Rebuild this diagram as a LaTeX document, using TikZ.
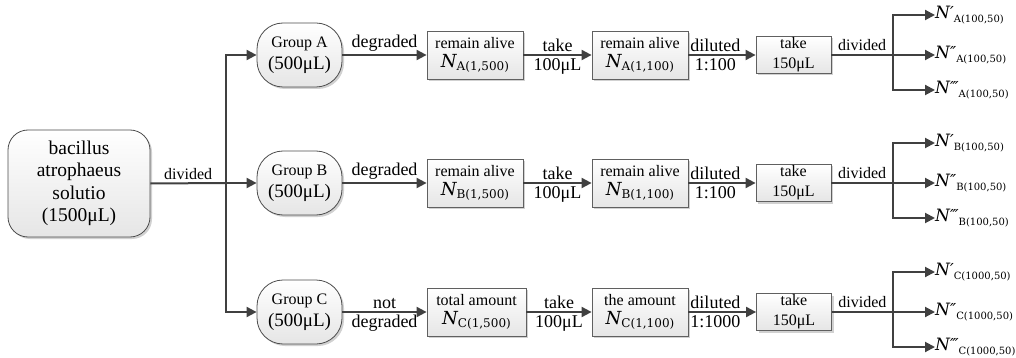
\documentclass[tikz,border=0pt]{standalone}
\usepackage{fontspec}
\setmainfont{Liberation Serif}
\newfontfamily\dvs{DejaVu Serif}
\newfontfamily\dvsans{DejaVu Sans}
\usetikzlibrary{arrows.meta,shadows}
\definecolor{linec}{HTML}{404040}
\definecolor{bordc}{HTML}{606060}
\newcommand\fsz[2]{\fontsize{#1}{#2}\selectfont}
\newcommand\Nb[1]{{\dvs\itshape\fsz{18}{18}N}\raisebox{-3.5pt}{\dvs\fsz{12}{12}#1}}
\newcommand\Nr[2]{{\dvs\itshape\fsz{17}{17}N}{\dvsans\itshape\fsz{16.5}{16.5}#1}\raisebox{-4pt}{\dvs\fsz{10}{10}#2}}
\begin{document}
\begin{tikzpicture}[x=1pt,y=-1pt,
  flow/.style={draw=linec,line width=2pt},
  arr/.style={flow,-{Triangle[length=10pt,width=10pt]}},
  shd/.style={drop shadow={shadow xshift=2pt,shadow yshift=-2pt,fill=black!18,opacity=1}},
  rbox/.style={rectangle,draw=bordc,line width=0.8pt,top color=white,bottom color=black!10,shd,
    inner sep=0pt,align=center,minimum width=96pt,minimum height=48pt,font=\fsz{16}{19}},
  sbox/.style={rbox,minimum width=75pt,minimum height=37pt,font=\fsz{16}{20}},
  grp/.style={rectangle,rounded corners=26pt,draw=black!70,line width=0.8pt,top color=white,
    bottom color=black!10,shd,minimum width=85pt,minimum height=64pt,inner sep=0pt,align=center,
    font=\fsz{16}{22}},
  mainbox/.style={rectangle,rounded corners=20pt,draw=black!70,line width=0.8pt,top color=white,
    bottom color=black!10,shd,minimum width=142pt,minimum height=107pt,inner sep=0pt,align=center,
    font=\fsz{19.5}{22.5}},
  lab/.style={font=\fsz{18}{18},inner sep=2.5pt},
  slab/.style={font=\fsz{16}{16},inner sep=3pt},
  rlab/.style={anchor=west,inner sep=0pt}
]
\useasboundingbox (0,0) rectangle (1016,358);

\node[mainbox] (src) at (79,183.5) {bacillus\\atrophaeus\\solutio\\(1500μL)};
\coordinate (t) at (226,183);

\node[grp] (gA) at (299.5,55) {Group A\\{\fsz{19}{22}(500μL)}};
\node[grp] (gB) at (299.5,183) {Group B\\{\fsz{19}{22}(500μL)}};
\node[grp] (gC) at (299.5,312) {Group C\\{\fsz{19}{22}(500μL)}};

\draw[flow] (src.east) -- node[slab,above]{divided} (t);
\draw[arr] (t) -- (gB.west);
\draw[arr] (t) |- (gA.west);
\draw[arr] (t) |- (gC.west);

% rows
\node[rbox] (a1) at (475,55) {remain alive\\\Nb{A(1,500)}};
\node[rbox] (a2) at (640,55) {remain alive\\\Nb{A(1,100)}};
\node[sbox] (a3) at (793.5,55) {take\\150μL};
\node[rbox] (b1) at (475,183) {remain alive\\\Nb{B(1,500)}};
\node[rbox] (b2) at (640,183) {remain alive\\\Nb{B(1,100)}};
\node[sbox] (b3) at (793.5,183) {take\\150μL};
\node[rbox,minimum width=99pt] (c1) at (476.5,312) {total amount\\\Nb{C(1,500)}};
\node[rbox] (c2) at (640,312) {the amount\\\Nb{C(1,100)}};
\node[sbox] (c3) at (794,312) {take\\150μL};

\draw[arr] (gA.east) -- node[lab,above]{degraded} (a1.west);
\draw[arr] (gB.east) -- node[lab,above]{degraded} (b1.west);
\draw[arr] (gC.east) -- node[lab,above]{not} node[lab,below]{degraded} (c1.west);
\foreach \r in {a,b,c}{
  \draw[arr] (\r1.east) -- node[lab,above]{take} node[lab,below]{100μL} (\r2.west);
}
\draw[arr] (a2.east) -- node[lab,above,pos=0.4]{diluted} node[lab,below,pos=0.4]{1:100} (a3.west);
\draw[arr] (b2.east) -- node[lab,above,pos=0.4]{diluted} node[lab,below,pos=0.4]{1:100} (b3.west);
\draw[arr] (c2.east) -- node[lab,above,pos=0.4]{diluted} node[lab,below,pos=0.4]{1:1000} (c3.west);

% outputs
\coordinate (jA) at (893,55);
\coordinate (jB) at (893,183);
\coordinate (jC) at (893,312);
\node[rlab] (oA1) at (935,15) {\Nr{′}{A(100,50)}};
\node[rlab] (oA2) at (935,55) {\Nr{″}{A(100,50)}};
\node[rlab] (oA3) at (935,90) {\Nr{‴}{A(100,50)}};
\node[rlab] (oB1) at (935,143) {\Nr{′}{B(100,50)}};
\node[rlab] (oB2) at (935,183) {\Nr{″}{B(100,50)}};
\node[rlab] (oB3) at (935,218) {\Nr{‴}{B(100,50)}};
\node[rlab] (oC1) at (935,272) {\Nr{′}{C(1000,50)}};
\node[rlab] (oC2) at (935,312) {\Nr{″}{C(1000,50)}};
\node[rlab] (oC3) at (935,347) {\Nr{‴}{C(1000,50)}};

\foreach \r/\R in {a/A,b/B,c/C}{
  \draw[flow] (\r3.east) -- node[slab,above]{divided} (j\R);
  \draw[arr] (j\R) -- (o\R2.west);
  \draw[arr] (j\R) |- (o\R1.west);
  \draw[arr] (j\R) |- (o\R3.west);
}
\end{tikzpicture}
\end{document}
